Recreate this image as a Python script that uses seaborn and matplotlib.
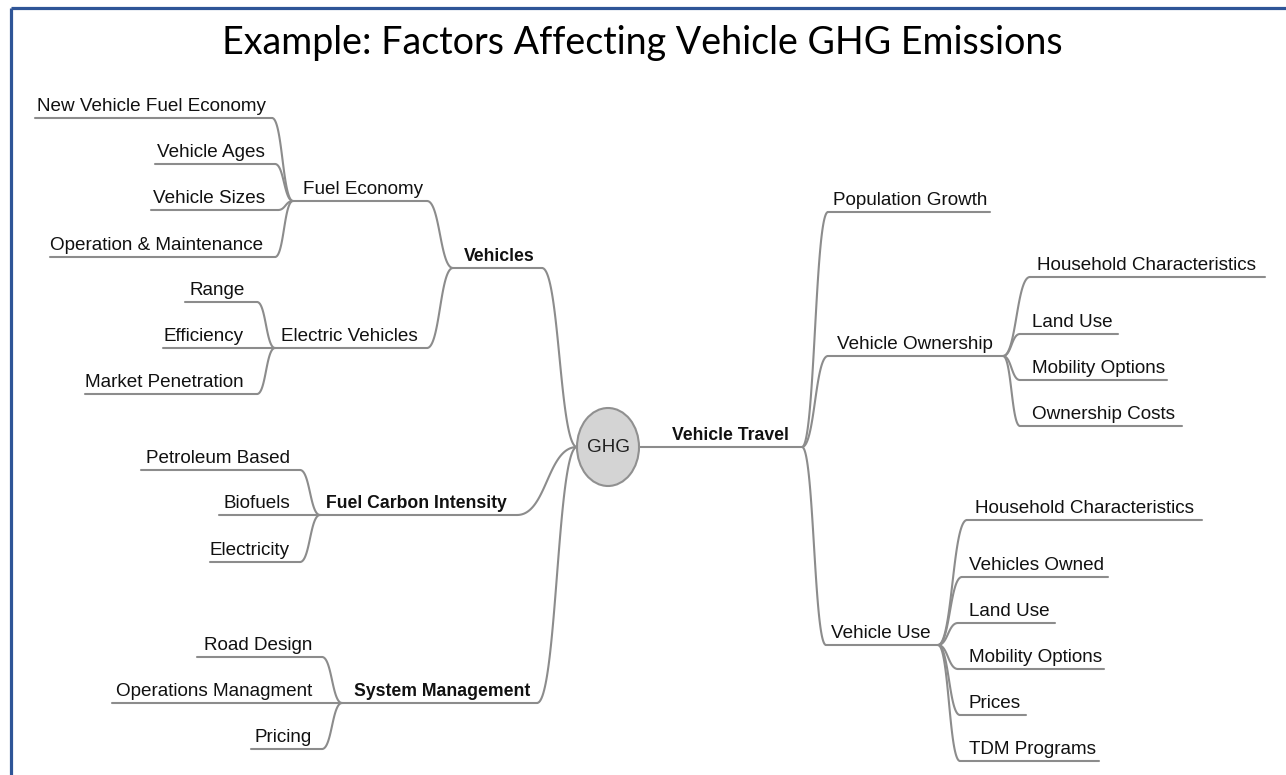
import matplotlib
matplotlib.use("Agg")
import matplotlib.pyplot as plt
from matplotlib import font_manager
from matplotlib.patches import Ellipse
import numpy as np
import pandas as pd
import seaborn as sns

# ---------------- data ----------------
TITLE = "Example: Factors Affecting Vehicle GHG Emissions"
ROOT = "GHG"

labels = [
    "Vehicles", "Fuel Economy", "New Vehicle Fuel Economy", "Vehicle Ages",
    "Vehicle Sizes", "Operation & Maintenance", "Electric Vehicles", "Range",
    "Efficiency", "Market Penetration", "Fuel Carbon Intensity",
    "Petroleum Based", "Biofuels", "Electricity", "System Management",
    "Road Design", "Operations Managment", "Pricing",
    "Vehicle Travel", "Population Growth", "Vehicle Ownership",
    "Household Characteristics", "Land Use", "Mobility Options",
    "Ownership Costs", "Vehicle Use", "Household Characteristics",
    "Vehicles Owned", "Land Use", "Mobility Options", "Prices", "TDM Programs",
]
# index of parent node (-1 = root "GHG")
parents = [-1, 0, 1, 1, 1, 1, 0, 6, 6, 6, -1, 10, 10, 10, -1, 14, 14, 14,
           -1, 18, 18, 20, 20, 20, 20, 18, 25, 25, 25, 25, 25, 25]
sides = ["L"] * 18 + ["R"] * 14
bold_nodes = [0, 10, 14, 18]

# ---------------- layout (pixel space) ----------------
node_y = [268, 201, 118, 164, 210, 257, 348, 302, 348, 394, 515, 470, 515,
          562, 703, 657, 703, 749, 447, 212, 356, 277, 334, 380, 426, 645,
          520, 577, 623, 669, 715, 761]
line_x0 = [453, 293, 35, 155, 151, 50, 275, 185, 163, 85, 320, 141, 219, 210,
           342, 197, 112, 251, 639, 828, 828, 1030, 1020, 1020, 1020, 826,
           967, 962, 958, 958, 960, 960]
line_x1 = [542, 427, 272, 275, 278, 275, 427, 257, 275, 257, 517, 300, 320,
           300, 537, 322, 342, 322, 802, 990, 1003, 1265, 1118, 1167, 1182,
           938, 1202, 1108, 1055, 1104, 1026, 1099]
text_x = [535, 423, 266, 265, 265, 263, 418, 245, 244, 244, 507, 290, 290,
          290, 530, 312, 312, 312, 672, 833, 837, 1037, 1032, 1032, 1032, 831,
          975, 969, 969, 969, 969, 969]
root_center = (608, 447)
root_size = (62, 78)

W, H = 1286, 775
LINE = "#8c8c8c"
BORDER = "#2F5597"

sns.set_style("white")
names = {f.name for f in font_manager.fontManager.ttflist}
label_family = ["Liberation Sans Narrow"] if "Liberation Sans Narrow" in names else ["Liberation Sans", "DejaVu Sans"]
title_family = ["Lato", "Open Sans", "DejaVu Sans"]
plt.rcParams["font.family"] = label_family

fig = plt.figure(figsize=(W / 100, H / 100), dpi=100)
ax = fig.add_axes([0, 0, 1, 1])
renderer = fig.canvas.get_renderer()


def fit_size(text, family, weight, target_px, base=20.0):
    t = fig.text(0, 0, text, fontsize=base, family=family, weight=weight)
    w = t.get_window_extent(renderer).width
    t.remove()
    return base * target_px / w


fs_reg = fit_size("New Vehicle Fuel Economy", label_family, "normal", 229)
fs_bold = fit_size("Fuel Carbon Intensity", label_family, "bold", 180)
fs_title = fit_size(TITLE, title_family, "normal", 841)


def bezier(p, c, n=60, k=0.5):
    x0, y0 = p
    x3, y3 = c
    dx = x3 - x0
    p1 = (x0 + k * dx, y0)
    p2 = (x3 - k * dx, y3)
    t = np.linspace(0, 1, n)
    bx = (1 - t) ** 3 * x0 + 3 * (1 - t) ** 2 * t * p1[0] + 3 * (1 - t) * t ** 2 * p2[0] + t ** 3 * x3
    by = (1 - t) ** 3 * y0 + 3 * (1 - t) ** 2 * t * p1[1] + 3 * (1 - t) * t ** 2 * p2[1] + t ** 3 * y3
    return bx, by


rx, ry = root_size[0] / 2, root_size[1] / 2
rows = []
seg = 0
for i, lab in enumerate(labels):
    y = node_y[i]
    # underline
    rows += [(line_x0[i], y, seg), (line_x1[i], y, seg)]
    seg += 1
    p = parents[i]
    if sides[i] == "L":
        child_pt = (line_x1[i], y)
        par_pt = (root_center[0] - rx, root_center[1]) if p < 0 else (line_x0[p], node_y[p])
    else:
        child_pt = (line_x0[i], y)
        par_pt = (root_center[0] + rx, root_center[1]) if p < 0 else (line_x1[p], node_y[p])
    if abs(child_pt[1] - par_pt[1]) > 0.5:
        bx, by = bezier(par_pt, child_pt)
        rows += [(a, b, seg) for a, b in zip(bx, by)]
        seg += 1

df = pd.DataFrame(rows, columns=["x", "y", "seg"])
sns.lineplot(data=df, x="x", y="y", units="seg", estimator=None, sort=False,
             color=LINE, linewidth=1.5, ax=ax, legend=False)

ax.add_patch(Ellipse(root_center, root_size[0], root_size[1],
                     facecolor="#d4d4d4", edgecolor="#909090", linewidth=1.5, zorder=3))
ax.text(root_center[0], root_center[1] + 1, ROOT, ha="center", va="center",
        fontsize=fs_reg, color="#222222", zorder=4)

for i, lab in enumerate(labels):
    ha = "right" if sides[i] == "L" else "left"
    weight = "bold" if i in bold_nodes else "normal"
    ax.text(text_x[i], node_y[i] - 7, lab, ha=ha, va="baseline",
            fontsize=fs_bold if i in bold_nodes else fs_reg,
            fontweight=weight, color="#111111")

ax.text(642, 54, TITLE, ha="center", va="baseline", fontsize=fs_title,
        family=title_family, color="#000000")

# slide frame
ax.plot([11, 11], [8, H], color=BORDER, linewidth=2.3, solid_capstyle="butt")
ax.plot([11, W], [8, 8], color=BORDER, linewidth=2.3, solid_capstyle="butt")

ax.set_xlim(0, W)
ax.set_ylim(H, 0)
ax.set_axis_off()
fig.savefig("out.png", dpi=100, facecolor="white")
